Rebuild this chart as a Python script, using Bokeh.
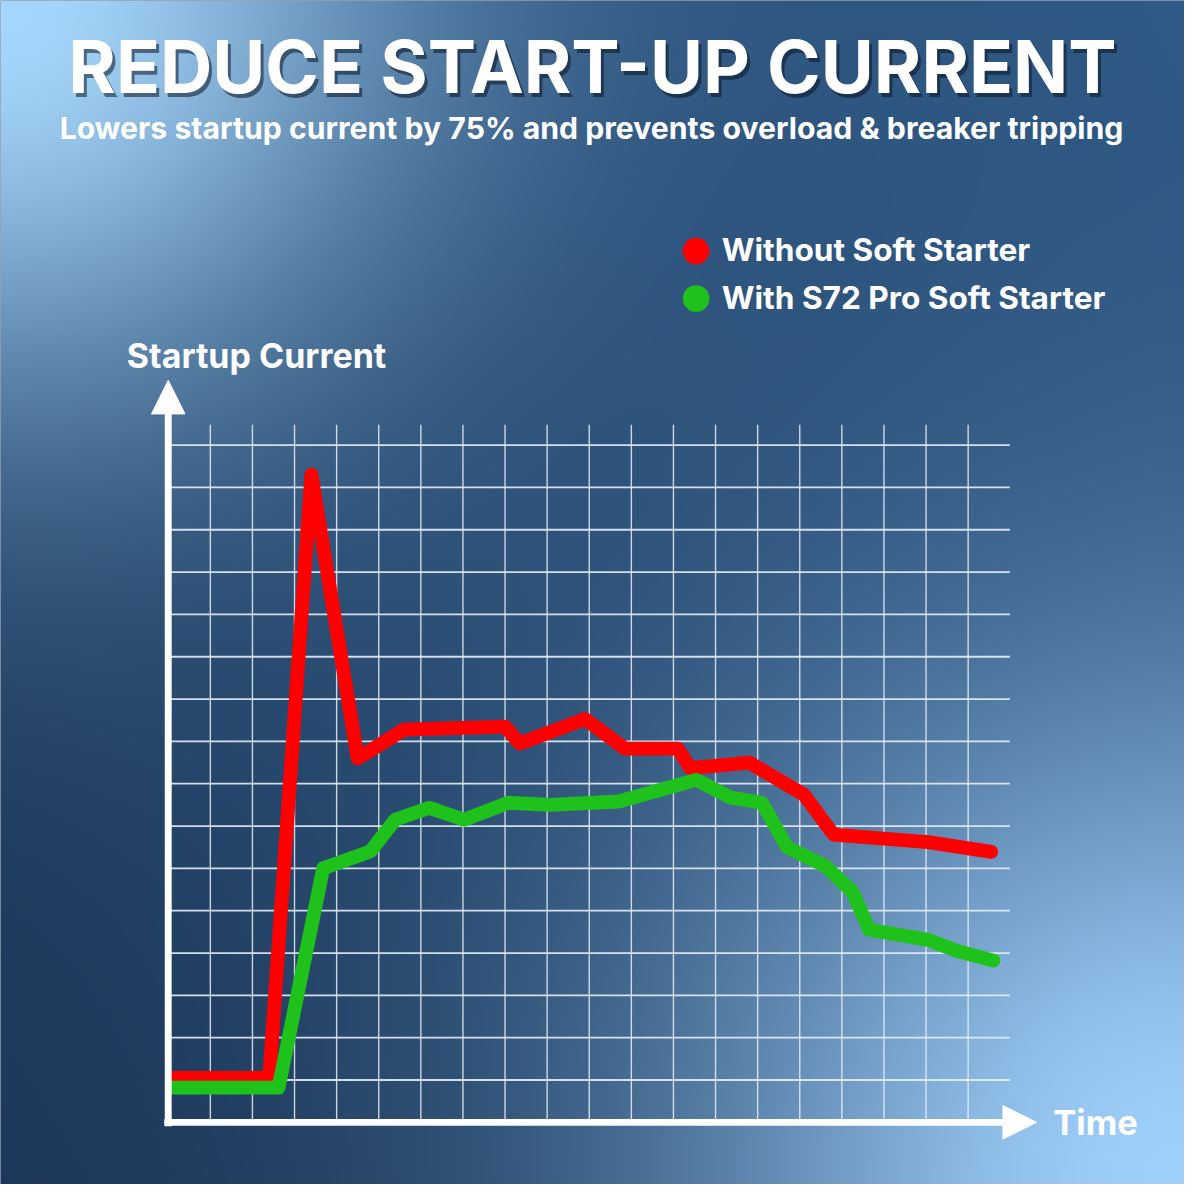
import numpy as np
from bokeh.plotting import figure
from bokeh.models import Range1d, Label, Arrow, NormalHead
from bokeh.embed import file_html
from bokeh.resources import INLINE

# ---------------- data ----------------
title_text = "REDUCE START-UP CURRENT"
subtitle_text = "Lowers startup current by 75% and prevents overload & breaker tripping"
y_label = "Startup Current"
x_label = "Time"
series_names = ["Without Soft Starter", "With S72 Pro Soft Starter"]
series_colors = ["#ff0000", "#1fc21a"]

# time (grid cells) / current (grid cells)
red_x = [0.0, 2.4, 3.4, 4.5, 5.6, 8.0, 8.35, 9.9, 10.85, 12.1, 12.4, 13.8, 15.1, 15.8, 18.05, 19.55]
red_y = [1.05, 1.05, 15.3, 8.6, 9.28, 9.35, 8.95, 9.53, 8.83, 8.83, 8.37, 8.5, 7.74, 6.8, 6.62, 6.39]

green_x = [0.0, 2.62, 3.68, 4.8, 5.39, 6.2, 7.03, 8.08, 9.07, 10.7, 12.54, 13.36, 14.1, 14.7,
           15.6, 16.25, 16.65, 18.05, 18.7, 19.6]
green_y = [0.82, 0.82, 6.0, 6.4, 7.15, 7.43, 7.15, 7.55, 7.5, 7.58, 8.09, 7.67, 7.55, 6.5,
           6.06, 5.45, 4.55, 4.31, 4.06, 3.82]

grid_cols = list(range(1, 20))
grid_rows = list(range(1, 17))

# ---------------- layout (reference pixel space 1200x1200, scaled to fit) ----------------
W = H = 1184
REF = 1200.0
S = W / REF
X0, Y0 = 170.0, 1137.0
CW, CH = 42.67, 42.9


def dx(px):
    return (px - X0) / CW


def dy(py):
    return (Y0 - py) / CH


def sx(px):
    return px * S


def sy(py):
    return (REF - py) * S


def fs(px):
    return "%.1fpx" % (px * S)


p = figure(width=W, height=H,
           x_range=Range1d(dx(0), dx(REF)),
           y_range=Range1d(dy(REF), dy(0)),
           output_backend="svg", toolbar_location=None,
           x_axis_location=None, y_axis_location=None,
           min_border=0, outline_line_color=None,
           background_fill_color="#24476e", border_fill_color="#24476e")
p.grid.visible = False

# ---------------- background gradient ----------------
n = 400
gx = np.linspace(0, REF, n)
gy = np.linspace(REF, 0, n)
GX, GY = np.meshgrid(gx, gy)
t = np.clip((GX - GY + 1200) / 2400.0, 0, 1)[..., None]
dark_a = np.array([0x1c, 0x37, 0x59], float)
dark_b = np.array([0x2f, 0x5a, 0x86], float)
base = dark_a * (1 - t) + dark_b * t
light1 = np.array([0xa6, 0xd6, 0xfb], float)
light2 = np.array([0x9f, 0xd0, 0xfa], float)
d1 = np.hypot(GX, GY)
d2 = np.hypot(1200 - GX, 1200 - GY)
w1 = np.exp(-(d1 / 420.0) ** 2)[..., None]
w2 = np.exp(-(d2 / 520.0) ** 2)[..., None]
col = base * (1 - w1) + light1 * w1
col = col * (1 - w2) + light2 * w2
img = np.empty((n, n), dtype=np.uint32)
view = img.view(dtype=np.uint8).reshape((n, n, 4))
view[..., 0] = col[..., 0].astype(np.uint8)
view[..., 1] = col[..., 1].astype(np.uint8)
view[..., 2] = col[..., 2].astype(np.uint8)
view[..., 3] = 255
p.image_rgba(image=[img], x=dx(0), y=dy(REF), dw=dx(REF) - dx(0), dh=dy(0) - dy(REF))

# ---------------- grid ----------------
grid_top = dy(430)
grid_right = dx(1023)
p.segment(x0=grid_cols, y0=[0] * len(grid_cols), x1=grid_cols, y1=[grid_top] * len(grid_cols),
          line_color="#e6eef8", line_alpha=0.85, line_width=1.4)
p.segment(x0=[0] * len(grid_rows), y0=grid_rows, x1=[grid_right] * len(grid_rows), y1=grid_rows,
          line_color="#e6eef8", line_alpha=0.9, line_width=1.8)

# ---------------- series ----------------
LW = 14 * S
for xs, ys, c in [(red_x, red_y, series_colors[0]), (green_x, green_y, series_colors[1])]:
    p.line(xs, ys, line_color=c, line_width=LW, line_join="round", line_cap="butt")
    p.scatter([xs[-1]], [ys[-1]], size=LW, marker="circle", fill_color=c, line_color=None)

# ---------------- axes with arrows ----------------
p.add_layout(Arrow(end=NormalHead(size=34 * S, fill_color="white", line_color="white", line_width=1),
                   x_start=0, y_start=dy(1141), x_end=0, y_end=dy(385),
                   line_color="white", line_width=7 * S))
p.add_layout(Arrow(end=NormalHead(size=34 * S, fill_color="white", line_color="white", line_width=1),
                   x_start=dx(166), y_start=0, x_end=dx(1050), y_end=0,
                   line_color="white", line_width=7 * S))

FONT = "Inter"
BASE_SHIFT = 0.355  # label anchor sits this fraction of the font size above the baseline


def text_label(x_px, base_px, txt, size, align="left", color="white", alpha=1.0, dxs=0, dys=0):
    return Label(x=sx(x_px) + dxs, y=sy(base_px - BASE_SHIFT * size) + dys,
                 x_units="screen", y_units="screen",
                 text=txt, text_font=FONT, text_font_style="bold",
                 text_font_size=fs(size), text_color=color, text_alpha=alpha,
                 text_align=align, text_baseline="alphabetic")


# ---------------- titles ----------------
p.add_layout(text_label(600, 93, title_text, 73.5, align="center", color="#0a1628", alpha=0.55,
                        dxs=3, dys=-4))
p.add_layout(text_label(600, 93, title_text, 73.5, align="center"))
p.add_layout(text_label(599, 140, subtitle_text, 30.6, align="center"))

# ---------------- legend ----------------
leg_y = [254, 302]
p.scatter([dx(705)] * 2, [dy(v) for v in leg_y], size=27 * S, marker="circle",
          fill_color=series_colors, line_color=None)
for name, yy in zip(series_names, leg_y):
    p.add_layout(text_label(731, yy + 10, name, 32))

# ---------------- axis labels ----------------
p.add_layout(text_label(128, 372, y_label, 34.5))
p.add_layout(text_label(1067, 1150, x_label, 35))

open("out.html", "w").write(file_html(p, INLINE))
